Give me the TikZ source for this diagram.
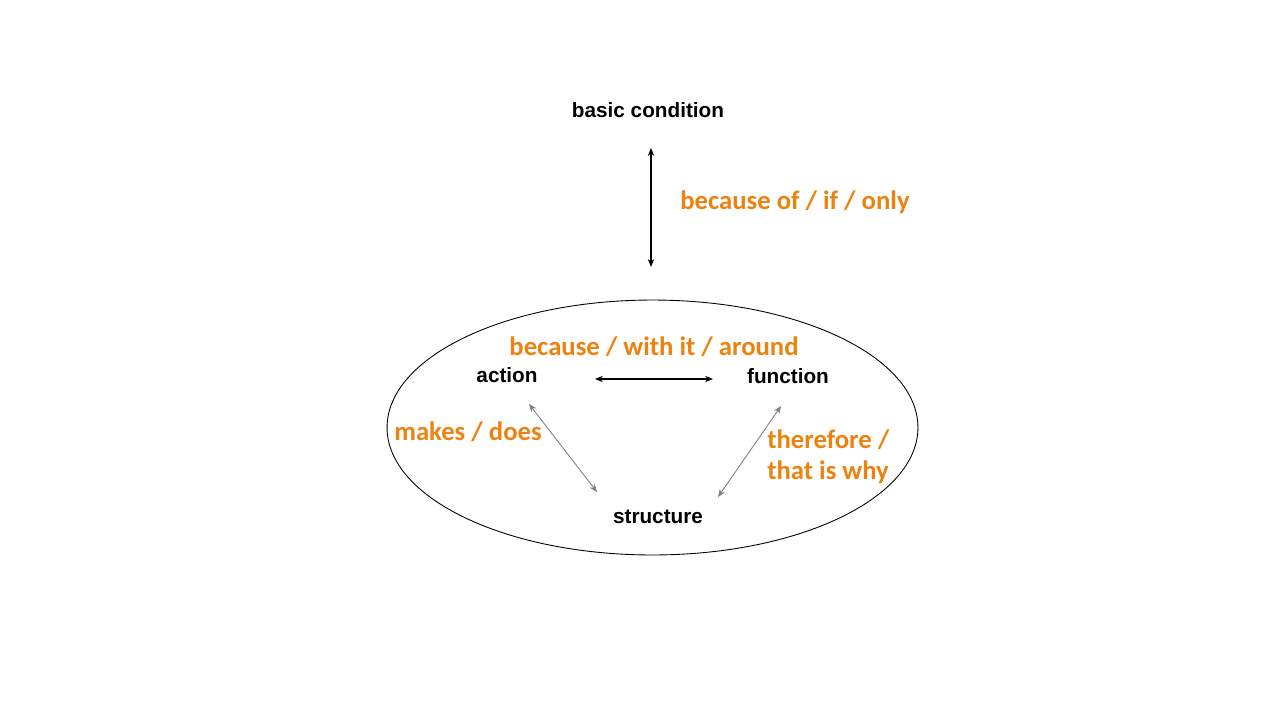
\documentclass[tikz,border=0pt]{standalone}
\usepackage{fontspec}
\usepackage{tikz}
\usetikzlibrary{arrows.meta, positioning, calc, shapes.geometric}
\setmainfont{Liberation Sans}
\newfontfamily\labelfont{Carlito}
\definecolor{linkorange}{RGB}{236,131,16}
\definecolor{arrowgray}{RGB}{128,128,128}

\tikzset{
  term/.style={font=\fontsize{11.8}{14}\selectfont\bfseries, inner sep=0pt},
  link/.style={font=\labelfont\fontsize{15.2}{17.6}\selectfont\bfseries, text=linkorange, inner sep=0pt},
  bothway/.style={{Stealth[length=4.5pt,width=3.6pt]}-{Stealth[length=4.5pt,width=3.6pt]}, line width=0.6pt},
  grayway/.style={bothway, draw=arrowgray, line width=0.5pt}
}

\begin{document}
\begin{tikzpicture}[x=0.02cm, y=-0.02cm]
  \useasboundingbox[fill=white] (0,0) rectangle (1280,720);

  % Outer ellipse
  \node[draw, ellipse, line width=0.5pt, minimum width=10.62cm, minimum height=5.1cm, inner sep=0pt] (frame) at (652.5,427.5) {};

  % Terms
  \node[term] (cond) at (648,110) {basic condition};
  \node[term] (action) at (507,375) {action};
  \node[term] (function) at (788,376) {function};
  \node[term] (structure) at (658,517) {structure};

  % Arrow ends
  \coordinate (up) at (651,148);
  \coordinate (down) at (651,267);
  \coordinate (actR) at (595,379);
  \coordinate (funL) at (713,379);
  \coordinate (actB) at (529,404);
  \coordinate (strL) at (597,492);
  \coordinate (funB) at (781,406);
  \coordinate (strR) at (718,497);

  % Arrows
  \draw[bothway] (up) -- (down);
  \draw[bothway] (actR) -- (funL);
  \draw[grayway] (actB) -- (strL);
  \draw[grayway] (funB) -- (strR);

  % Labels
  \node[link, anchor=west] (ifonly) at (680,202) {because of / if / only};
  \node[link] (around) at (654,347) {because / with it / around};
  \node[link] (makes) at (468,432) {makes / does};
  \node[link, anchor=west, align=left] (why) at (767,457) {therefore /\\that is why};
\end{tikzpicture}
\end{document}
